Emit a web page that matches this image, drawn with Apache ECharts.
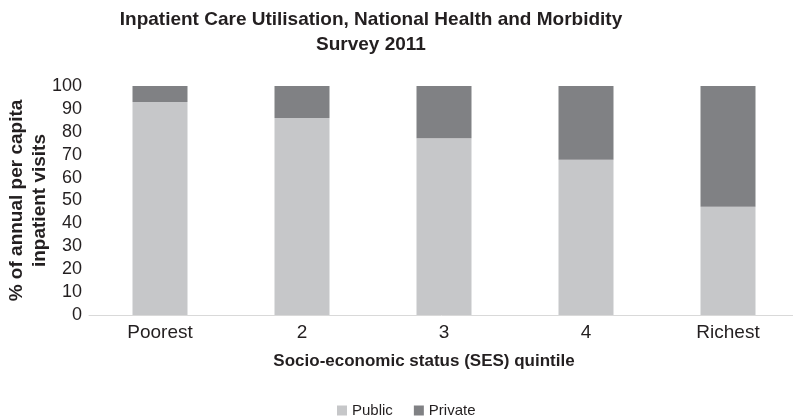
<!DOCTYPE html>
<html>
<head>
<meta charset="utf-8">
<script src="https://cdn.jsdelivr.net/npm/echarts@6/dist/echarts.min.js"></script>
<style>
  html, body { margin: 0; padding: 0; background: #fff; }
  #main { width: 793px; height: 420px; }
</style>
</head>
<body>
<div id="main"></div>
<script>
// quintiles and shares (% of annual per capita inpatient visits)
var categories = ['Poorest', '2', '3', '4', 'Richest'];
var publicShare = [93, 86, 77.2, 67.8, 47.3];
var privateShare = [7, 14, 22.8, 32.2, 52.7];
var yTicks = [0, 10, 20, 30, 40, 50, 60, 70, 80, 90, 100];

var chart = echarts.init(document.getElementById('main'));
var font = 'Liberation Sans, Arial, Helvetica, sans-serif';

var option = {
  animation: false,
  backgroundColor: '#fff',
  title: {
    text: 'Inpatient Care Utilisation, National Health and Morbidity\nSurvey 2011',
    left: 366,
    textAlign: 'center',
    top: 2,
    textStyle: {
      fontFamily: font,
      fontSize: 19,
      fontWeight: 'bold',
      color: '#231f20',
      lineHeight: 25
    }
  },
  legend: {
    data: ['Public', 'Private'],
    left: 332,
    top: 398,
    icon: 'rect',
    itemWidth: 10,
    itemHeight: 10,
    itemGap: 21,
    textStyle: { fontFamily: font, fontSize: 15, color: '#231f20' }
  },
  grid: { left: 89, top: 86, width: 710, height: 229, outerBoundsMode: 'none' },
  xAxis: {
    type: 'category',
    data: categories,
    name: 'Socio-economic status (SES) quintile',
    nameLocation: 'middle',
    nameGap: 38,
    nameMoveOverlap: false,
    nameTextStyle: { fontFamily: font, fontSize: 17, fontWeight: 'bold', color: '#231f20', padding: [0, 40, 0, 0] },
    axisLine: { lineStyle: { color: '#d9d9d9', width: 1 } },
    axisTick: { show: false },
    axisLabel: { fontFamily: font, fontSize: 19, color: '#231f20', margin: 8 }
  },
  yAxis: {
    type: 'value',
    min: 0,
    max: 100,
    interval: 10,
    name: '% of annual per capita\ninpatient visits',
    nameLocation: 'middle',
    nameRotate: 90,
    nameGap: 38,
    nameMoveOverlap: false,
    nameTextStyle: { fontFamily: font, fontSize: 19, fontWeight: 'bold', color: '#231f20', lineHeight: 23 },
    axisLine: { show: false },
    axisTick: { show: false },
    splitLine: { show: false },
    axisLabel: {
      fontFamily: font, fontSize: 18, color: '#231f20', margin: 7,
      formatter: function (v) { return yTicks.indexOf(v) >= 0 ? String(v) : ''; }
    }
  },
  series: [
    {
      name: 'Public',
      type: 'bar',
      stack: 'total',
      barWidth: 55,
      data: publicShare,
      itemStyle: { color: '#c6c7c9' }
    },
    {
      name: 'Private',
      type: 'bar',
      stack: 'total',
      barWidth: 55,
      data: privateShare,
      itemStyle: { color: '#808184' }
    }
  ]
};

chart.setOption(option);
</script>
</body>
</html>
